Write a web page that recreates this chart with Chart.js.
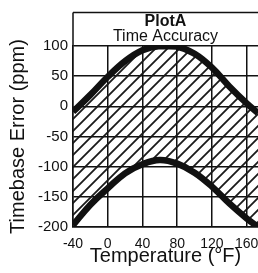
<!DOCTYPE html>
<html>
<head>
<meta charset="utf-8">
<script src="https://cdn.jsdelivr.net/npm/chart.js@4.4.1/dist/chart.umd.min.js"></script>
<style>
  html, body { margin: 0; padding: 0; background: #fff; }
  #wrap { width: 258px; height: 273px; }
</style>
</head>
<body>
<div id="wrap"><canvas id="c" width="258" height="273"></canvas></div>
<script>
// valeurs
const temps    = [-40, -20, 0, 20, 40, 60, 80, 100, 120, 140, 160, 173];
const upperErr = [-9, 19, 49, 75, 93, 100, 99, 87, 64, 33, 5, -11];
const lowerErr = [-197, -163, -136, -111, -96, -89, -95, -110, -133, -161, -186, -200];
const xTicks   = [-40, 0, 40, 80, 120, 160];
const yTicks   = [100, 50, 0, -50, -100, -150, -200];
const plotTitle = 'PlotA';
const plotSub   = 'Time Accuracy';

const INK = '#111';
const FONT = "'Liberation Sans', Arial, sans-serif";

// motif hachuré "/"
function hatch() {
  const c = document.createElement('canvas');
  c.width = 12; c.height = 12;
  const g = c.getContext('2d');
  g.strokeStyle = '#1a1a1a';
  g.lineWidth = 1.8;
  g.beginPath();
  g.moveTo(0, 12); g.lineTo(12, 0);
  g.moveTo(-6, 6); g.lineTo(6, -6);
  g.moveTo(6, 18); g.lineTo(18, 6);
  g.stroke();
  return g.createPattern(c, 'repeat');
}

const pts = arr => temps.map((t, i) => ({ x: t, y: arr[i] }));

// cadre du titre au-dessus de la zone de tracé
const titleBox = {
  id: 'titleBox',
  afterDraw(chart) {
    const { ctx, chartArea: { left, right, top } } = chart;
    ctx.save();
    ctx.strokeStyle = INK;
    ctx.lineWidth = 1.5;
    ctx.beginPath();
    ctx.moveTo(left, 12.5); ctx.lineTo(right, 12.5);
    ctx.moveTo(left, 12.5); ctx.lineTo(left, top);
    ctx.stroke();
    const cx = (left + right) / 2;
    ctx.fillStyle = INK;
    ctx.textAlign = 'center';
    ctx.textBaseline = 'middle';
    ctx.font = "bold 16px " + FONT;
    ctx.fillText(plotTitle, cx, 22);
    ctx.font = "16px " + FONT;
    ctx.fillText(plotSub, cx, 37);
    ctx.restore();
  }
};

new Chart(document.getElementById('c'), {
  type: 'line',
  plugins: [titleBox],
  data: {
    datasets: [
      {
        label: 'upper',
        data: pts(upperErr),
        borderColor: INK,
        borderWidth: 6.5,
        pointRadius: 0,
        tension: 0.4,
        fill: false,
      },
      {
        label: 'lower',
        data: pts(lowerErr),
        borderColor: INK,
        borderWidth: 6.5,
        pointRadius: 0,
        tension: 0.4,
        backgroundColor: hatch(),
        fill: '-1',
      }
    ]
  },
  options: {
    responsive: false,
    animation: false,
    layout: { padding: { top: 46, left: 0, right: 0, bottom: 0 } },
    plugins: { legend: { display: false }, tooltip: { enabled: false } },
    scales: {
      x: {
        type: 'linear',
        min: -40, max: 173,
        afterBuildTicks(s) { s.ticks = xTicks.map(v => ({ value: v })); },
        afterFit(s) { s.height = 46; s.paddingLeft = 0; s.paddingRight = 0; },
        grid: { color: INK, lineWidth: 1.5, drawTicks: false },
        border: { color: INK, width: 1.5 },
        ticks: { color: INK, font: { family: FONT, size: 14 }, padding: 9, maxRotation: 0 },
        title: { display: true, text: 'Temperature (°F)', color: INK,
                 font: { family: FONT, size: 20 }, padding: { top: 0, bottom: 5 } }
      },
      y: {
        min: -200, max: 100,
        afterBuildTicks(s) { s.ticks = yTicks.map(v => ({ value: v })); },
        afterFit(s) { s.width = 73; },
        grid: { color: INK, lineWidth: 1.5, drawTicks: false },
        border: { color: INK, width: 1.5 },
        ticks: { color: INK, font: { family: FONT, size: 15 }, padding: 5 },
        title: { display: true, text: 'Timebase Error (ppm)', color: INK,
                 font: { family: FONT, size: 20 }, padding: { top: 6, bottom: 0 } }
      }
    }
  }
});
</script>
</body>
</html>
